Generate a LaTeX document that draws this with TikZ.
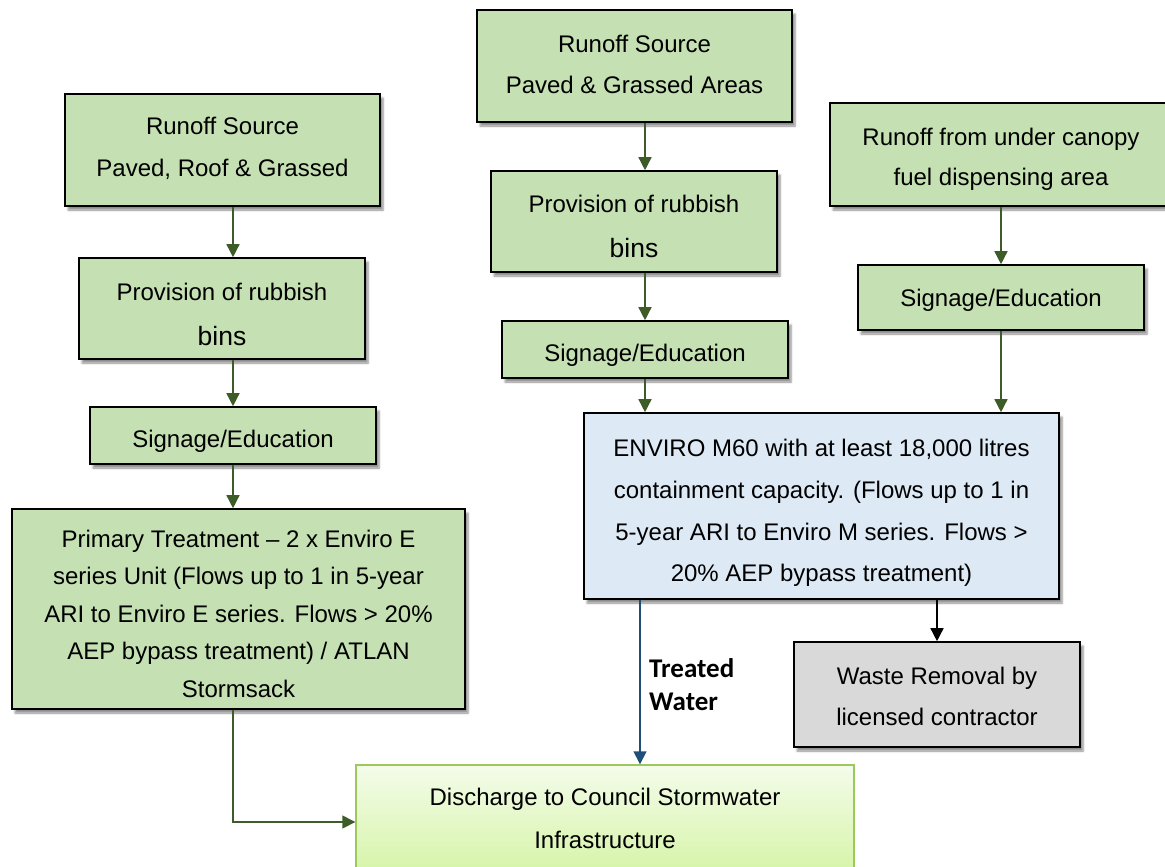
\documentclass[tikz,border=0pt]{standalone}
\usepackage{fontspec}
\setmainfont{Liberation Sans}
\newfontfamily\labelfont{Carlito}
\usetikzlibrary{arrows.meta,shadows.blur}
\definecolor{boxgreen}{HTML}{C5E0B3}
\definecolor{boxblue}{HTML}{DDE9F5}
\definecolor{boxgrey}{HTML}{D9D9D9}
\definecolor{flowgreen}{HTML}{3D5C28}
\definecolor{flowblue}{HTML}{1F4E79}
\definecolor{outgreen}{HTML}{9CC95C}
\definecolor{outtop}{HTML}{F4FCEA}
\definecolor{outbottom}{HTML}{D6F4A8}
\begin{document}
\begin{tikzpicture}[x=1pt,y=-1pt,
  % tb = text height / text depth; sets where the last baseline sits in a box
  tb/.style 2 args={text height=#1pt, text depth=#2pt},
  lines/.style={font=\fontsize{24}{#1}\selectfont},
  box/.style={draw=black, line width=1.6pt, inner sep=0pt, align=center,
    lines=41,
    blur shadow={shadow xshift=3pt, shadow yshift=-4pt, shadow blur steps=6, shadow opacity=45}},
  greenbox/.style={box, fill=boxgreen},
  bluebox/.style={box, fill=boxblue},
  greybox/.style={box, fill=boxgrey},
  outbox/.style={draw=outgreen, line width=1.4pt, inner sep=0pt, align=center,
    top color=outtop, bottom color=outbottom, lines=43},
  flow/.style={line width=1.5pt, -{Triangle[length=13pt,width=13pt]}},
  gflow/.style={flow, draw=flowgreen},
  bflow/.style={flow, draw=flowblue},
  kflow/.style={flow, draw=black},
  wlabel/.style={anchor=west, align=left, inner sep=0pt, text=black,
    font=\labelfont\bfseries\fontsize{27}{33}\selectfont}
]
\useasboundingbox (0,0) rectangle (1165,867);

% left column
\node[greenbox, lines=42, tb={52}{0}, minimum width=315pt, minimum height=112pt] (l1) at (222.5,150)
  {Runoff Source\\Paved, Roof \& Grassed};
\node[greenbox, lines=45, tb={73}{0}, minimum width=286pt, minimum height=101pt] (l2) at (222,308.5)
  {Provision of rubbish\\{\fontsize{26.5}{45}\selectfont bins}};
\node[greenbox, tb={24}{0}, minimum width=286pt, minimum height=57pt] (l3) at (233,435.5)
  {Signage/Education};
\node[greenbox, lines=37.5, tb={176}{0}, minimum width=453pt, minimum height=200pt] (l4) at (238.5,609)
  {Primary Treatment -- 2 x Enviro E\\series Unit (Flows up to 1 in 5-year\\ARI to Enviro E series. Flows > 20\%\\AEP bypass treatment) / ATLAN\\Stormsack};

% middle column
\node[greenbox, tb={54}{0}, minimum width=315pt, minimum height=112pt] (m1) at (634.5,66)
  {Runoff Source\\Paved \& Grassed Areas};
\node[greenbox, lines=45, tb={71}{0}, minimum width=286pt, minimum height=101pt] (m2) at (634,221.5)
  {Provision of rubbish\\{\fontsize{26.5}{45}\selectfont bins}};
\node[greenbox, tb={23}{0}, minimum width=286pt, minimum height=57pt] (m3) at (645,349.5)
  {Signage/Education};

% right column
\node[greenbox, lines=40, tb={62}{0}, minimum width=342pt, minimum height=103pt] (r1) at (1001,154.5)
  {Runoff from under canopy\\fuel dispensing area};
\node[greenbox, tb={17}{0}, minimum width=286pt, minimum height=65pt] (r2) at (1001,297.5)
  {Signage/Education};

% treatment, waste and outlet
\node[bluebox, lines=41.7, tb={151.6}{0}, minimum width=475pt, minimum height=186pt] (en) at (821.5,506)
  {ENVIRO M60 with at least 18,000 litres\\containment capacity. (Flows up to 1 in\\5-year ARI to Enviro M series. Flows >\\20\% AEP bypass treatment)};
\node[greybox, tb={61}{0}, minimum width=286pt, minimum height=105pt] (wr) at (937,694.5)
  {Waste Removal by\\licensed contractor};
\node[outbox, tb={58}{0}, minimum width=498pt, minimum height=108pt] (dc) at (605,819)
  {Discharge to Council Stormwater\\Infrastructure};

\coordinate (tw) at (640,0);
\node[wlabel] (twl) at (649,685) {Treated\\Water};

% connectors
\draw[gflow] (l1.south -| l3.north) -- (l2.north -| l3.north);
\draw[gflow] (l2.south -| l3.north) -- (l3.north);
\draw[gflow] (l3.south) -- (l4.north -| l3.south);
\draw[gflow] (l4.south -| l3.south) |- ([yshift=-3pt]dc.west);

\draw[gflow] (m1.south -| m3.north) -- (m2.north -| m3.north);
\draw[gflow] (m2.south -| m3.north) -- (m3.north);
\draw[gflow] (m3.south) -- (m3.south |- en.north);

\draw[gflow] (r1.south -| r2.north) -- (r2.north);
\draw[gflow] (r2.south) -- (r2.south |- en.north);

\draw[kflow] (en.south -| wr.north) -- (wr.north);
\draw[bflow] (en.south -| tw) -- (dc.north -| tw);
\end{tikzpicture}
\end{document}
